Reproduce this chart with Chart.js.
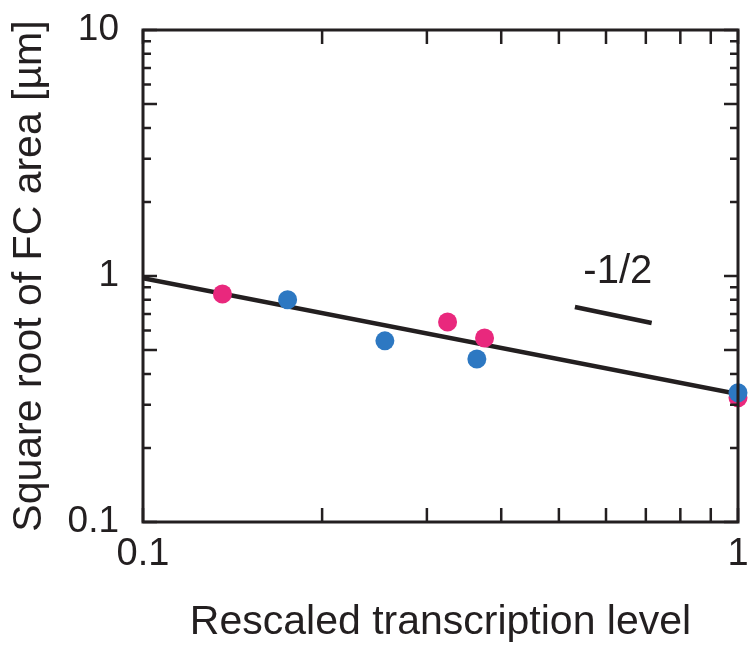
<!DOCTYPE html>
<html>
<head>
<meta charset="utf-8">
<script src="https://cdn.jsdelivr.net/npm/chart.js@4.4.1/dist/chart.umd.min.js"></script>
<style>
  body { margin: 0; background: #fff; }
  #wrap { width: 750px; height: 650px; }
</style>
</head>
<body>
<div id="wrap"><canvas id="fcChart" width="750" height="650"></canvas></div>
<script>
// data
const pinkX = [0.136, 0.325, 0.375, 1.0];
const pinkY = [0.845, 0.65, 0.56, 0.32];
const blueX = [0.175, 0.255, 0.364, 1.0];
const blueY = [0.80, 0.545, 0.46, 0.335];

const fitX = [0.1, 1.0];
const fitY = [0.98, 0.331];

const slopeX = [0.532, 0.716];
const slopeY = [0.748, 0.644];
const slopeLabel = '-1/2';
const slopeLabelPos = { x: 0.628, y: 1.04 };

const xTickValues = [0.1, 1];
const xTickLabels = ['0.1', '1'];
const yTickValues = [0.1, 1, 10];
const yTickLabels = ['0.1', '1', '10'];

const xMinorTicks = [0.2, 0.3, 0.4, 0.5, 0.6, 0.7, 0.8, 0.9];
const yMinorTicks = [0.2, 0.3, 0.4, 0.6, 0.7, 0.8, 0.9, 2, 3, 4, 6, 7, 8, 9];
const yMidTicks = [0.5, 5];

const ink = '#231f20';
const fontFamily = '"Liberation Sans", Arial, Helvetica, sans-serif';

function toPoints(xs, ys) {
    return xs.map(function(x, i) { return { x: x, y: ys[i] }; });
}

function noEdgePadding(scale) {
    scale.paddingTop = 0;
    scale.paddingBottom = 0;
    scale.paddingLeft = 0;
    scale.paddingRight = 0;
}

// frame + inward ticks on all four sides, and the slope label
const frameTicks = {
    id: 'frameTicks',
    afterDatasetsDraw(chart) {
        const ctx = chart.ctx;
        const a = chart.chartArea;
        const xs = chart.scales.x;
        const ys = chart.scales.y;
        ctx.save();
        ctx.strokeStyle = ink;
        ctx.lineWidth = 2.5;
        ctx.lineCap = 'butt';

        function tickX(v, len) {
            const px = xs.getPixelForValue(v);
            ctx.beginPath();
            ctx.moveTo(px, a.bottom); ctx.lineTo(px, a.bottom - len);
            ctx.moveTo(px, a.top); ctx.lineTo(px, a.top + len);
            ctx.stroke();
        }
        function tickY(v, len) {
            const py = ys.getPixelForValue(v);
            ctx.beginPath();
            ctx.moveTo(a.left, py); ctx.lineTo(a.left + len, py);
            ctx.moveTo(a.right, py); ctx.lineTo(a.right - len, py);
            ctx.stroke();
        }
        xMinorTicks.forEach(function(v) { tickX(v, 14); });
        xTickValues.forEach(function(v) { tickX(v, 14); });
        yMinorTicks.forEach(function(v) { tickY(v, 8); });
        yMidTicks.forEach(function(v) { tickY(v, 14); });
        yTickValues.forEach(function(v) { tickY(v, 14); });

        ctx.lineWidth = 3;
        ctx.strokeRect(a.left, a.top, a.right - a.left, a.bottom - a.top);

        ctx.fillStyle = ink;
        ctx.font = '40px ' + fontFamily;
        ctx.textAlign = 'center';
        ctx.textBaseline = 'middle';
        ctx.fillText(slopeLabel, xs.getPixelForValue(slopeLabelPos.x), ys.getPixelForValue(slopeLabelPos.y));
        ctx.restore();
    }
};

new Chart(document.getElementById('fcChart'), {
    type: 'scatter',
    data: {
        datasets: [
            {
                label: 'blue',
                data: toPoints(blueX, blueY),
                backgroundColor: '#2d78c2',
                borderWidth: 0,
                pointRadius: 9.5,
                clip: false,
                order: 1
            },
            {
                label: 'pink',
                data: toPoints(pinkX, pinkY),
                backgroundColor: '#e9287d',
                borderWidth: 0,
                pointRadius: 9.5,
                clip: false,
                order: 2
            },
            {
                type: 'line',
                label: 'fit',
                data: toPoints(fitX, fitY),
                borderColor: ink,
                borderWidth: 4.5,
                pointRadius: 0,
                fill: false,
                order: 3
            },
            {
                type: 'line',
                label: 'slope',
                data: toPoints(slopeX, slopeY),
                borderColor: ink,
                borderWidth: 4.5,
                pointRadius: 0,
                fill: false,
                order: 3
            }
        ]
    },
    options: {
        responsive: false,
        animation: false,
        layout: { padding: { top: 30, right: 12, left: 0, bottom: 0 } },
        plugins: {
            legend: { display: false },
            tooltip: { enabled: false }
        },
        scales: {
            x: {
                type: 'logarithmic',
                min: 0.1,
                max: 1,
                grid: { display: false, drawTicks: false },
                border: { display: false },
                afterBuildTicks: function(scale) {
                    scale.ticks = xTickValues.map(function(v) { return { value: v }; });
                },
                afterFit: function(scale) {
                    scale.height = 128;
                    noEdgePadding(scale);
                },
                ticks: {
                    color: ink,
                    padding: 10,
                    maxRotation: 0,
                    autoSkip: false,
                    font: { family: fontFamily, size: 38 },
                    callback: function(v) {
                        const i = xTickValues.indexOf(v);
                        return i >= 0 ? xTickLabels[i] : '';
                    }
                },
                title: {
                    display: true,
                    text: 'Rescaled transcription level',
                    color: ink,
                    font: { family: fontFamily, size: 41 },
                    padding: { bottom: 3 }
                }
            },
            y: {
                type: 'logarithmic',
                min: 0.1,
                max: 10,
                grid: { display: false, drawTicks: false },
                border: { display: false },
                afterBuildTicks: function(scale) {
                    scale.ticks = yTickValues.map(function(v) { return { value: v }; });
                },
                afterFit: function(scale) {
                    scale.width = 143;
                    noEdgePadding(scale);
                },
                ticks: {
                    color: ink,
                    padding: 24,
                    autoSkip: false,
                    font: { family: fontFamily, size: 37 },
                    callback: function(v) {
                        const i = yTickValues.indexOf(v);
                        return i >= 0 ? yTickLabels[i] : '';
                    }
                },
                title: {
                    display: true,
                    text: 'Square root of FC area [\u00b5m]',
                    color: ink,
                    font: { family: fontFamily, size: 41 },
                    padding: { top: 5 }
                }
            }
        }
    },
    plugins: [frameTicks]
});
</script>
</body>
</html>
